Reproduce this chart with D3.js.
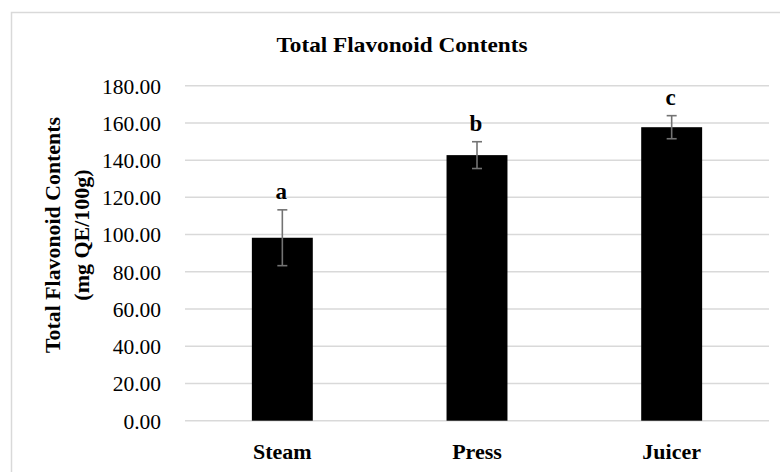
<!DOCTYPE html>
<html>
<head>
<meta charset="utf-8">
<script src="https://cdn.jsdelivr.net/npm/d3@7"></script>
<style>
  html, body { margin: 0; padding: 0; background: #fff; }
  svg text { font-family: "Liberation Serif", "Times New Roman", serif; fill: #000; }
</style>
</head>
<body>
<svg id="chart" width="780" height="472"></svg>
<script>
// Total flavonoid contents by extraction method (mg QE/100g)
const categories = ["Steam", "Press", "Juicer"];
const means = [98.3, 142.7, 157.7];
const errors = [15.0, 7.2, 6.2];
const groupLetters = ["a", "b", "c"];
const yTicks = [0, 20, 40, 60, 80, 100, 120, 140, 160, 180];

const svg = d3.select("#chart");
const plot = { left: 185, right: 769, top: 85.7, bottom: 420.7 };

// chart frame
svg.append("rect")
  .attr("x", 11.5).attr("y", 12.5)
  .attr("width", 800).attr("height", 500)
  .attr("fill", "none").attr("stroke", "#d9d9d9").attr("stroke-width", 1.5);

const x = d3.scaleBand()
  .domain(categories)
  .range([plot.left, plot.right])
  .paddingInner(0.687)
  .paddingOuter(0.3435);

const y = d3.scaleLinear()
  .domain([0, 180])
  .range([plot.bottom, plot.top]);

// gridlines
svg.append("g")
  .selectAll("line")
  .data(yTicks)
  .join("line")
  .attr("x1", plot.left).attr("x2", plot.right)
  .attr("y1", d => y(d)).attr("y2", d => y(d))
  .attr("stroke", "#d9d9d9").attr("stroke-width", 1.5);

// y axis tick labels
const yAxis = d3.axisLeft(y)
  .tickValues(yTicks)
  .tickFormat(d3.format(".2f"))
  .tickSize(0)
  .tickPadding(0);
const gy = svg.append("g")
  .attr("transform", `translate(${plot.left - 24},0)`)
  .call(yAxis);
gy.select(".domain").remove();
gy.selectAll("text")
  .attr("font-family", "Liberation Serif, serif")
  .attr("font-size", 21.5)
  .attr("fill", "#000")
  .attr("dy", "0.34em");

// bars
svg.append("g")
  .selectAll("rect")
  .data(categories)
  .join("rect")
  .attr("x", d => x(d))
  .attr("width", x.bandwidth())
  .attr("y", (d, i) => y(means[i]))
  .attr("height", (d, i) => y(0) - y(means[i]))
  .attr("fill", "#000");

// error bars
const eg = svg.append("g").attr("stroke", "#737373").attr("stroke-width", 1.6);
categories.forEach((c, i) => {
  const cx = x(c) + x.bandwidth() / 2;
  const yHi = y(means[i] + errors[i]);
  const yLo = y(means[i] - errors[i]);
  eg.append("line").attr("x1", cx).attr("x2", cx).attr("y1", yHi).attr("y2", yLo);
  eg.append("line").attr("x1", cx - 5).attr("x2", cx + 5).attr("y1", yHi).attr("y2", yHi);
  eg.append("line").attr("x1", cx - 5).attr("x2", cx + 5).attr("y1", yLo).attr("y2", yLo);
});

// significance letters
svg.append("g")
  .selectAll("text")
  .data(categories)
  .join("text")
  .attr("x", d => x(d) + x.bandwidth() / 2 - 1)
  .attr("y", (d, i) => y(means[i] + errors[i]) - 11)
  .attr("text-anchor", "middle")
  .attr("font-size", 23)
  .attr("font-weight", "bold")
  .text((d, i) => groupLetters[i]);

// category labels
svg.append("g")
  .selectAll("text")
  .data(categories)
  .join("text")
  .attr("x", d => x(d) + x.bandwidth() / 2)
  .attr("y", 459)
  .attr("text-anchor", "middle")
  .attr("font-size", 22)
  .attr("font-weight", "bold")
  .text(d => d);

// chart title
svg.append("text")
  .attr("x", 402)
  .attr("y", 52)
  .attr("text-anchor", "middle")
  .attr("font-size", 22)
  .attr("font-weight", "bold")
  .attr("textLength", 251)
  .attr("lengthAdjust", "spacingAndGlyphs")
  .text("Total Flavonoid Contents");

// y axis title (two lines)
const yt = svg.append("text")
  .attr("transform", "translate(0,235) rotate(-90)")
  .attr("text-anchor", "middle")
  .attr("font-size", 22)
  .attr("font-weight", "bold");
yt.append("tspan").attr("x", 0).attr("y", 60)
  .attr("textLength", 236).attr("lengthAdjust", "spacingAndGlyphs")
  .text("Total Flavonoid Contents");
yt.append("tspan").attr("x", 0).attr("y", 89).text("(mg QE/100g)");
</script>
</body>
</html>
